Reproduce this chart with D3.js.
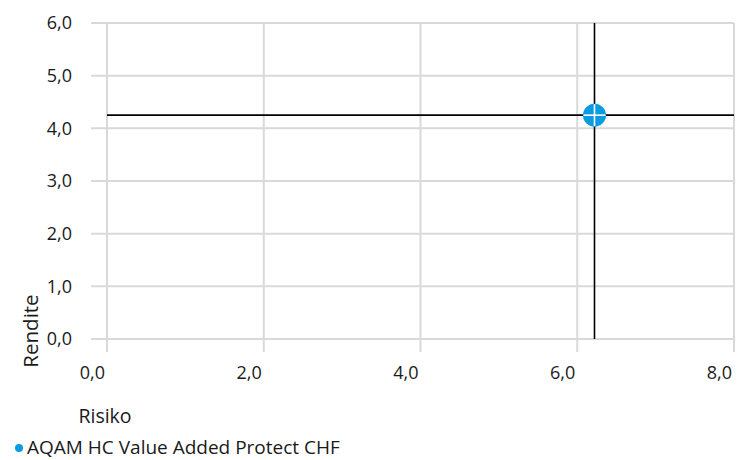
<!DOCTYPE html>
<html>
<head>
<meta charset="utf-8">
<script src="https://cdn.jsdelivr.net/npm/d3@7"></script>
<style>
  body { margin: 0; background: #fff; }
  text { font-family: "Open Sans", "Noto Sans", sans-serif; fill: #1a1a1a; }
</style>
</head>
<body>
<div id="chart"></div>
<script>
var svgWidth = 744;
var svgHeight = 460;

// data
var seriesName = "AQAM HC Value Added Protect CHF";
var risiko = [6.22];
var rendite = [4.25];
var xTicks = [0, 2, 4, 6, 8];
var yTicks = [0, 1, 2, 3, 4, 5, 6];

var margin = { top: 23, left: 107 };
var width = 734 - margin.left;
var height = 339 - margin.top;

var svg = d3.select("#chart").append("svg")
  .attr("width", svgWidth)
  .attr("height", svgHeight);

var g = svg.append("g")
  .attr("transform", `translate(${margin.left}, ${margin.top})`);

var x = d3.scaleLinear().domain([0, 8]).range([0, width]);
var y = d3.scaleLinear().domain([0, 6]).range([height, 0]);

var fmt = d => d3.format(".1f")(d).replace(".", ",");

// gridlines with outer tick stubs
g.append("g").selectAll("line").data(yTicks).enter().append("line")
  .attr("x1", -16).attr("x2", width)
  .attr("y1", d => y(d)).attr("y2", d => y(d))
  .attr("stroke", "#d9d9d9").attr("stroke-width", 2);

g.append("g").selectAll("line").data(xTicks).enter().append("line")
  .attr("x1", d => x(d)).attr("x2", d => x(d))
  .attr("y1", 0).attr("y2", height + 13)
  .attr("stroke", "#d9d9d9").attr("stroke-width", 2);

// tick labels
g.append("g").selectAll("text").data(yTicks).enter().append("text")
  .attr("x", -35).attr("y", d => y(d)).attr("dy", "0.35em")
  .attr("text-anchor", "end").style("font-size", "18px")
  .text(fmt);

g.append("g").selectAll("text").data(xTicks).enter().append("text")
  .attr("x", d => x(d) - 2).attr("y", height + 40)
  .attr("text-anchor", "end").style("font-size", "18px")
  .text(fmt);

// crosshair lines through the point
g.append("line")
  .attr("x1", 0).attr("x2", width)
  .attr("y1", y(rendite[0])).attr("y2", y(rendite[0]))
  .attr("stroke", "#000").attr("stroke-width", 1.6);
g.append("line")
  .attr("x1", x(risiko[0])).attr("x2", x(risiko[0]))
  .attr("y1", 0).attr("y2", height)
  .attr("stroke", "#000").attr("stroke-width", 1.6);

// point
var pts = g.append("g").selectAll("g").data(risiko).enter().append("g")
  .attr("transform", (d, i) => `translate(${x(d)}, ${y(rendite[i])})`);
pts.append("circle").attr("r", 11.5).attr("fill", "#0b9be0");
pts.append("line").attr("x1", -11).attr("x2", 11).attr("stroke", "#fff").attr("stroke-width", 1.6);
pts.append("line").attr("y1", -11).attr("y2", 11).attr("stroke", "#fff").attr("stroke-width", 1.6);

// axis titles
svg.append("text")
  .attr("transform", "translate(31, 331) rotate(-90)")
  .attr("dy", "0.35em")
  .attr("text-anchor", "middle").style("font-size", "20.5px")
  .text("Rendite");

svg.append("text")
  .attr("x", 105).attr("y", 423)
  .attr("text-anchor", "middle").style("font-size", "19.5px")
  .text("Risiko");

// legend
svg.append("circle").attr("cx", 19).attr("cy", 448).attr("r", 4).attr("fill", "#0b9be0");
svg.append("text")
  .attr("x", 27).attr("y", 454)
  .style("font-size", "19px")
  .text(seriesName);
</script>
</body>
</html>
